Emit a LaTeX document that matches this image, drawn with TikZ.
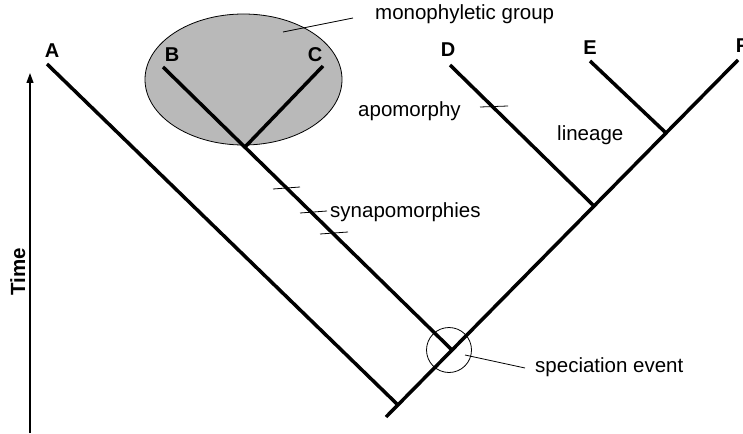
\documentclass[tikz,border=0pt]{standalone}
\usepackage{fontspec}
\setmainfont{Liberation Sans}
\usetikzlibrary{arrows.meta,shapes.geometric}

\begin{document}
\begin{tikzpicture}[
  x=1pt,y=-1pt,
  branch/.style={line width=3.5pt},
  hair/.style={line width=0.8pt},
  taxon/.style={font=\bfseries\fontsize{20}{22}\selectfont,inner sep=0pt,anchor=base},
  note/.style={font=\fontsize{20.5}{24}\selectfont,inner sep=0pt,anchor=base west},
  clade/.style={draw,ellipse,fill=gray!55,line width=0.8pt,minimum width=197pt,minimum height=131pt,inner sep=0pt}
]
\useasboundingbox (0,0) rectangle (743,433);

% monophyletic group
\node[clade] (mono) at (243.5,79.5) {};

% tips and junctions
\coordinate (root) at (386,417);
\coordinate (jA) at (398,405);
\coordinate (jB) at (452,350);
\coordinate (jD) at (594,206);
\coordinate (jE) at (666,133);
\coordinate (jBC) at (245,147);
\coordinate (tA) at (47,64);
\coordinate (tB) at (163,67);
\coordinate (tC) at (323,66);
\coordinate (tD) at (450,65);
\coordinate (tE) at (590,61);
\coordinate (tF) at (738,60);

% branches
\draw[branch] (root) -- (tF);
\draw[branch] (tA) -- (jA);
\draw[branch] (tB) -- (jB);
\draw[branch] (tC) -- (jBC);
\draw[branch] (tD) -- (jD);
\draw[branch] (tE) -- (jE);

% taxa
\node[taxon] (A) at (52,58) {A};
\node[taxon] (B) at (172,62) {B};
\node[taxon] (C) at (315,62) {C};
\node[taxon] (D) at (448,57) {D};
\node[taxon] (E) at (590,55) {E};
\node[taxon] (F) at (742,53) {F};

% time axis
\coordinate (axbot) at (30,433);
\coordinate (axtop) at (30,73);
\draw[line width=1.2pt,-{Triangle[length=10pt,width=7pt]}] (axbot) -- (axtop);
\node[font=\bfseries\fontsize{20.5}{24}\selectfont,inner sep=0pt,rotate=90,anchor=base] (time) at (25,272) {Time};

% character changes
\coordinate (s1a) at (273,189);
\coordinate (s1b) at (300,187);
\coordinate (s2a) at (300,213);
\coordinate (s2b) at (327,211);
\coordinate (s3a) at (320,234);
\coordinate (s3b) at (348,232);
\draw[hair] (s1a) -- (s1b);
\draw[hair] (s2a) -- (s2b);
\draw[hair] (s3a) -- (s3b);
\node[note] (syn) at (330,217) {synapomorphies};

\coordinate (apa) at (480,107);
\coordinate (apb) at (508,106);
\draw[hair] (apa) -- (apb);
\node[note] (apo) at (358,117) {apomorphy};

\node[note] (lin) at (557,140) {lineage};

% labels with leaders
\node[note] (monolbl) at (375,20) {monophyletic group};
\coordinate (monoin) at (283,32);
\coordinate (monoout) at (353,18);
\draw[hair] (monoin) -- (monoout);

\node[draw,circle,hair,minimum size=45pt,inner sep=0pt] (spec) at (449,350) {};
\node[note] (speclbl) at (535,372) {speciation event};
\coordinate (specin) at (465,355);
\coordinate (specout) at (525,368);
\draw[hair] (specin) -- (specout);
\end{tikzpicture}
\end{document}
